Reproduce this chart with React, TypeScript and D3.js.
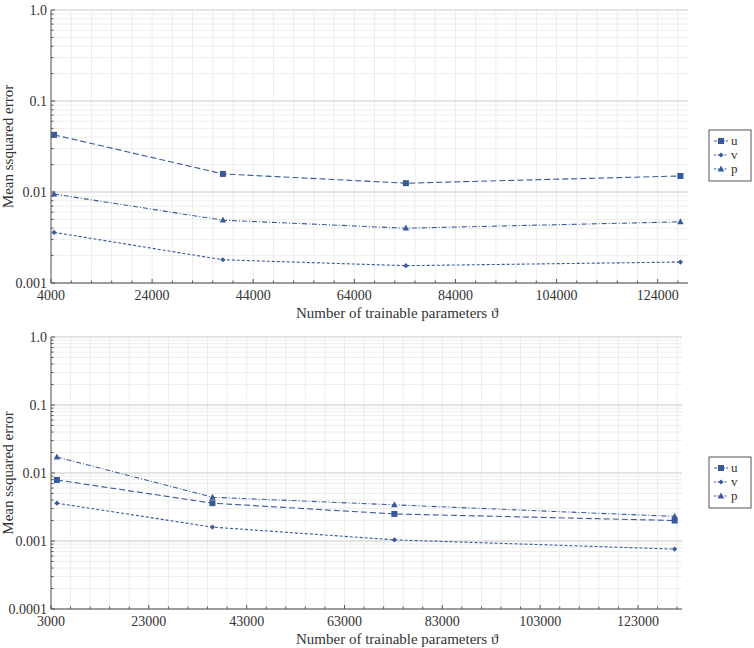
import React from "react";
import * as d3 from "d3";

// values
const seriesNames = ["u", "v", "p"];

const topParams = [4600, 38000, 74200, 128500];
const topU = [0.0425, 0.0158, 0.0125, 0.015];
const topV = [0.0036, 0.0018, 0.00155, 0.0017];
const topP = [0.0095, 0.0049, 0.004, 0.0047];

const bottomParams = [4200, 36000, 73200, 130500];
const bottomU = [0.0079, 0.0036, 0.0025, 0.002];
const bottomV = [0.0036, 0.0016, 0.00104, 0.00076];
const bottomP = [0.0172, 0.0044, 0.0034, 0.0023];

const topXTicks = [4000, 24000, 44000, 64000, 84000, 104000, 124000];
const bottomXTicks = [3000, 23000, 43000, 63000, 83000, 103000, 123000];
const topYTicks = ["1.0", "0.1", "0.01", "0.001"];
const bottomYTicks = ["1.0", "0.1", "0.01", "0.001", "0.0001"];

const blue = "#38599b";
const font = "Liberation Serif, DejaVu Serif, serif";
const dashes: Record<string, string> = { u: "6,3", v: "3,2", p: "5,2,1,2" };

function Marker({ kind, x, y }: { kind: string; x: number; y: number }) {
  if (kind === "u") return <rect x={x - 3} y={y - 3} width={6} height={6} fill={blue} />;
  if (kind === "v")
    return <path d={`M${x},${y - 2.6}L${x + 2.6},${y}L${x},${y + 2.6}L${x - 2.6},${y}Z`} fill={blue} />;
  return <path d={`M${x},${y - 3.6}L${x + 3.2},${y + 2.4}L${x - 3.2},${y + 2.4}Z`} fill={blue} />;
}

interface PanelProps {
  left: number;
  right: number;
  top: number;
  bottom: number;
  xDomain: [number, number];
  xTicks: number[];
  yTicks: string[];
  params: number[];
  series: number[][];
  legendTop: number;
}

function Panel(p: PanelProps) {
  const x = d3.scaleLinear().domain(p.xDomain).range([p.left, p.right]);
  const yMin = +p.yTicks[p.yTicks.length - 1];
  const y = d3.scaleLog().domain([yMin, 1]).range([p.bottom, p.top]);

  const xMinor = d3.range(p.xTicks[0], p.xDomain[1] + 1, 4000);
  const decades = p.yTicks.map((t) => +t);
  const yMinor: number[] = [];
  decades.slice(1).forEach((d) => {
    for (let k = 2; k <= 9; k++) yMinor.push(d * k);
  });

  const line = d3
    .line<number>()
    .x((_, i) => x(p.params[i]))
    .y((d) => y(d));

  const midY = (p.top + p.bottom) / 2;

  return (
    <g>
      {/* grid */}
      {xMinor.map((t) => (
        <line key={"gx" + t} x1={x(t)} x2={x(t)} y1={p.top} y2={p.bottom} stroke="#ececec" strokeWidth={1} />
      ))}
      {yMinor.map((t) => (
        <line key={"gy" + t} x1={p.left} x2={p.right} y1={y(t)} y2={y(t)} stroke="#eeeeee" strokeWidth={1} />
      ))}
      {decades.map((t) => (
        <line key={"gd" + t} x1={p.left} x2={p.right} y1={y(t)} y2={y(t)} stroke="#e4e4e4" strokeWidth={2} />
      ))}

      {/* series */}
      {p.series.map((vals, si) => (
        <g key={seriesNames[si]}>
          <path d={line(vals) || ""} fill="none" stroke={blue} strokeWidth={1.1} strokeDasharray={dashes[seriesNames[si]]} />
          {vals.map((v, i) => (
            <Marker key={i} kind={seriesNames[si]} x={x(p.params[i])} y={y(v)} />
          ))}
        </g>
      ))}

      {/* axes */}
      <line x1={p.left} x2={p.right} y1={p.bottom} y2={p.bottom} stroke="#555" strokeWidth={1} />
      <line x1={p.left} x2={p.left} y1={p.top} y2={p.bottom} stroke="#555" strokeWidth={1} />
      {xMinor.map((t) => (
        <line key={"tx" + t} x1={x(t)} x2={x(t)} y1={p.bottom} y2={p.bottom - (p.xTicks.includes(t) ? 4 : 2.5)} stroke="#555" />
      ))}
      {yMinor.map((t) => (
        <line key={"ty" + t} x1={p.left} x2={p.left + 2.5} y1={y(t)} y2={y(t)} stroke="#555" />
      ))}
      {decades.map((t) => (
        <line key={"td" + t} x1={p.left} x2={p.left + 4} y1={y(t)} y2={y(t)} stroke="#555" />
      ))}
      {p.xTicks.map((t) => (
        <text key={"lx" + t} x={x(t)} y={p.bottom + 17} textAnchor="middle" fontSize={14}>
          {t}
        </text>
      ))}
      {p.yTicks.map((t) => (
        <text key={"ly" + t} x={p.left - 4} y={y(+t) + 4.5} textAnchor="end" fontSize={14}>
          {t}
        </text>
      ))}
      <text x={296} y={p.bottom + 35} fontSize={15}>
        Number of trainable parameters ϑ
      </text>
      <text transform={`translate(13,${midY}) rotate(-90)`} textAnchor="middle" fontSize={15}>
        Mean ssquared error
      </text>

      {/* legend */}
      <rect x={709} y={p.legendTop} width={42} height={51} fill="#fff" stroke="#555" strokeWidth={1} />
      {seriesNames.map((n, i) => {
        const ly = p.legendTop + 11 + i * 14;
        return (
          <g key={"lg" + n}>
            <line x1={714} x2={728} y1={ly} y2={ly} stroke={blue} strokeWidth={1.1} strokeDasharray={n === "u" ? "3,1" : "2,1.5"} />
            <Marker kind={n} x={721} y={ly} />
            <text x={731} y={ly + 4} fontSize={13}>
              {n}
            </text>
          </g>
        );
      })}
    </g>
  );
}

export default function App() {
  return (
    <svg
      width={754}
      height={648}
      style={{ position: "absolute", left: 0, top: 0, background: "#fff", fontFamily: font, fill: "#333" }}
    >
      <Panel
        left={51}
        right={688}
        top={10}
        bottom={283}
        xDomain={[4000, 130000]}
        xTicks={topXTicks}
        yTicks={topYTicks}
        params={topParams}
        series={[topU, topV, topP]}
        legendTop={130}
      />
      <Panel
        left={51}
        right={682}
        top={337}
        bottom={609}
        xDomain={[3000, 132000]}
        xTicks={bottomXTicks}
        yTicks={bottomYTicks}
        params={bottomParams}
        series={[bottomU, bottomV, bottomP]}
        legendTop={457}
      />
    </svg>
  );
}
